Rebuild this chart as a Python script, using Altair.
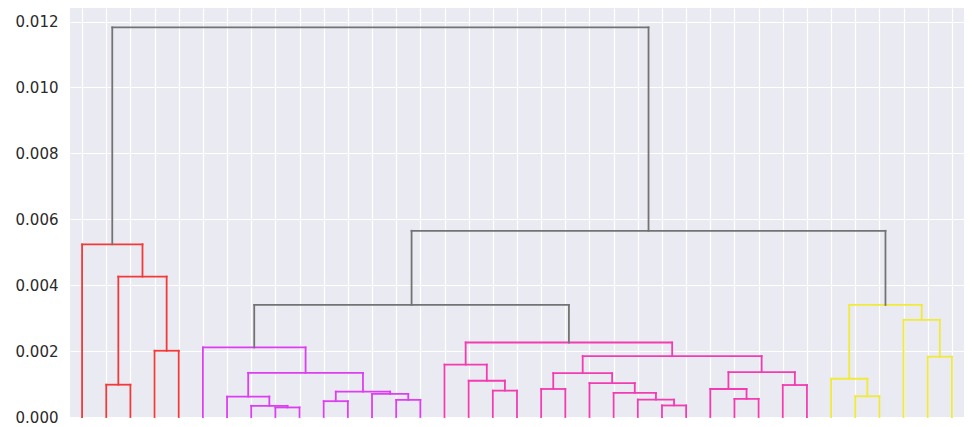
import altair as alt
import pandas as pd

# Leaves are 0..36 in display order; internal nodes get ids 37, 38, ...
N_LEAVES = 37
merge_left = [1, 3, 37, 0,
              8, 7, 6, 10, 13, 12, 44, 43, 5,
              17, 16, 15, 19, 24, 23, 22, 21, 53, 27, 26, 29, 60, 58, 52,
              32, 31, 35, 34, 66,
              49, 70, 40]
merge_right = [2, 4, 38, 39,
               9, 41, 42, 11, 14, 45, 46, 47, 48,
               18, 50, 51, 20, 25, 54, 55, 56, 57, 28, 59, 30, 61, 62, 63,
               33, 65, 36, 67, 68,
               64, 69, 71]
merge_height = [0.00098, 0.00201, 0.00426, 0.00524,
                0.00029, 0.00034, 0.00062, 0.00048, 0.00052, 0.00070, 0.00077, 0.00134, 0.00211,
                0.00080, 0.00110, 0.00159, 0.00085, 0.00035, 0.00053, 0.00073, 0.00103, 0.00133,
                0.00055, 0.00085, 0.00097, 0.00136, 0.00185, 0.00226,
                0.00063, 0.00116, 0.00183, 0.00295, 0.00340,
                0.00340, 0.00565, 0.01182]
merge_cluster = (["C1"] * 4 + ["C2"] * 9 + ["C3"] * 15 + ["C4"] * 5 + ["above"] * 3)

cluster_names = ["C1", "C2", "C3", "C4", "above"]
cluster_colors = ["#f23a3a", "#dc3ef2", "#f23cb0", "#f0ea3a", "#737373"]

y_ticks = [0.0, 0.002, 0.004, 0.006, 0.008, 0.010, 0.012]

# dendrogram layout (scipy convention: leaf i at x = 5 + 10 i)
pos_x = {i: 5 + 10 * i for i in range(N_LEAVES)}
pos_h = {i: 0.0 for i in range(N_LEAVES)}
rows = []
for k, (a, b, h, c) in enumerate(zip(merge_left, merge_right, merge_height, merge_cluster)):
    node = N_LEAVES + k
    xa, xb = pos_x[a], pos_x[b]
    rows.append(dict(x=xa, x2=xa, y=pos_h[a], y2=h, cluster=c))
    rows.append(dict(x=xa, x2=xb, y=h, y2=h, cluster=c))
    rows.append(dict(x=xb, x2=xb, y=h, y2=pos_h[b], cluster=c))
    pos_x[node] = (xa + xb) / 2
    pos_h[node] = h

df = pd.DataFrame(rows)

chart = alt.Chart(df).mark_rule(strokeWidth=1.8, strokeCap="square").encode(
    x=alt.X("x:Q", scale=alt.Scale(domain=[0, 10 * N_LEAVES], nice=False, zero=False),
            axis=alt.Axis(values=[5 + 10 * i for i in range(N_LEAVES)], labels=False,
                          ticks=False, domain=False, title=None, grid=True)),
    x2="x2:Q",
    y=alt.Y("y:Q", scale=alt.Scale(domain=[0, 0.01241], nice=False),
            axis=alt.Axis(values=y_ticks, format=".3f", ticks=False, domain=False,
                          title=None, labelPadding=12, labelFontSize=15,
                          labelColor="#2a2a2a", labelFont="DejaVu Sans")),
    y2="y2:Q",
    color=alt.Color("cluster:N", scale=alt.Scale(domain=cluster_names, range=cluster_colors),
                    legend=None),
).properties(
    width=894, height=409,
    autosize=alt.AutoSizeParams(type="none"),
    padding={"left": 62, "top": 0, "right": 0, "bottom": 9},
    background="white",
).configure_view(
    fill="#EAEAF2", stroke=None
).configure_axis(
    gridColor="white", gridWidth=1.2, gridOpacity=1
)

chart.save("out.html", embed_options={"renderer": "svg", "actions": False})
